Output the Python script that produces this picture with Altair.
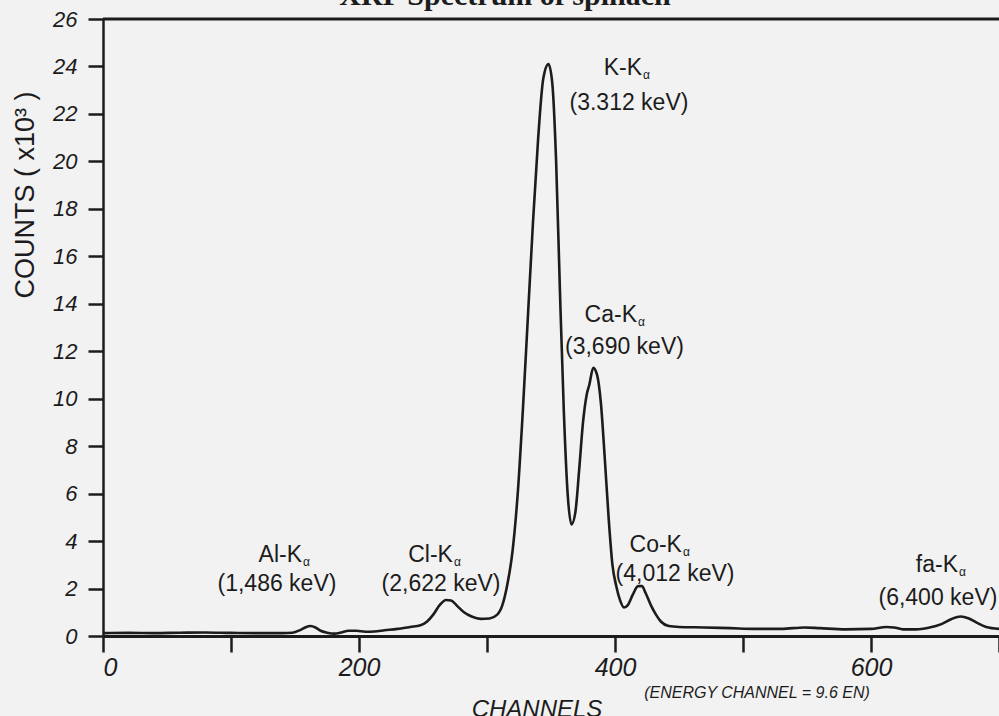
import altair as alt
import pandas as pd

# Spectrum: channel number and counts (thousands)
channels = [0, 20, 40, 60, 80, 100, 120, 140, 148, 154, 158, 162, 166, 170, 175, 181,
            186, 192, 198, 205, 212, 220, 230, 240, 248, 253, 258, 263, 268, 272, 277,
            282, 288, 295, 302, 308, 312, 316, 320, 324, 328, 332, 336, 340, 344, 348,
            351, 354, 357, 360, 363, 366, 369, 372, 375, 378, 380, 383, 386, 389, 392,
            395, 398, 401, 404, 407, 410, 414, 418, 421, 424, 428, 432, 436, 442, 450,
            470, 490, 510, 530, 548, 560, 580, 600, 612, 618, 625, 635, 645, 655, 663,
            670, 676, 683, 690, 700]
counts = [0.12, 0.13, 0.12, 0.14, 0.15, 0.13, 0.12, 0.12, 0.14, 0.25, 0.36, 0.42, 0.36,
          0.22, 0.14, 0.10, 0.15, 0.22, 0.22, 0.18, 0.19, 0.24, 0.30, 0.38, 0.45, 0.60,
          0.90, 1.30, 1.52, 1.50, 1.25, 1.00, 0.82, 0.72, 0.74, 0.90, 1.30, 2.20, 3.60,
          6.00, 9.50, 13.5, 17.5, 21.0, 23.5, 24.1, 23.3, 20.0, 14.5, 9.5, 6.0, 4.7,
          5.2, 7.0, 9.0, 10.2, 10.6, 11.3, 11.0, 9.8, 7.5, 5.0, 3.0, 2.1, 1.5, 1.2,
          1.3, 1.75, 2.1, 2.1, 1.8, 1.3, 0.9, 0.6, 0.42, 0.38, 0.36, 0.33, 0.30, 0.30,
          0.36, 0.33, 0.28, 0.30, 0.38, 0.36, 0.28, 0.28, 0.35, 0.50, 0.72, 0.82, 0.75,
          0.55, 0.38, 0.30]

# Peak labels
line_names = ["Al-K", "Cl-K", "K-K", "Ca-K", "Co-K", "fa-K"]
line_energies = ["(1,486 keV)", "(2,622 keV)", "(3.312 keV)", "(3,690 keV)",
                 "(4,012 keV)", "(6,400 keV)"]
name_x = [155.5, 273.4, 421.1, 417.2, 452.3, 668.0]
name_y = [3.41, 3.41, 23.94, 13.53, 3.83, 2.99]
energy_x = [135.9, 264.1, 410.9, 407.4, 446.9, 652.3]
energy_y = [2.19, 2.19, 22.46, 12.18, 2.61, 1.60]

x_ticks = [0, 100, 200, 300, 400, 500, 600, 700]
y_ticks = list(range(0, 27, 2))

spec = pd.DataFrame({"channel": channels, "counts": counts})
labels = pd.DataFrame({"name": line_names, "nx": name_x, "ny": name_y,
                       "energy": line_energies, "ex": energy_x, "ey": energy_y})

W, H = 896, 617
INK = "#1c1c1c"
SANS = "Liberation Sans"
NARROW = "Liberation Sans Narrow, Liberation Sans"

x_scale = alt.Scale(domain=[0, 700], nice=False, zero=False)
y_scale = alt.Scale(domain=[0, 26], nice=False)

x_axis = alt.Axis(values=x_ticks, labelExpr="datum.value % 200 == 0 ? datum.label : ''",
                  labelFont=NARROW, labelFontStyle="italic", labelFontSize=25,
                  labelColor=INK, labelPadding=3, tickSize=16, tickWidth=2.5,
                  tickColor=INK, domainColor=INK, domainWidth=3, grid=False,
                  labelOverlap=False, title=None)
y_axis = alt.Axis(values=y_ticks, labelFont=SANS, labelFontStyle="italic",
                  labelFontSize=22, labelColor=INK, labelPadding=11, tickSize=15,
                  tickWidth=2.5, tickColor=INK, domainColor=INK, domainWidth=2.5,
                  grid=False, labelOverlap=False, title=None)

spectrum = alt.Chart(spec).mark_line(color=INK, strokeWidth=2.6, interpolate="monotone").encode(
    x=alt.X("channel:Q", scale=x_scale, axis=x_axis),
    y=alt.Y("counts:Q", scale=y_scale, axis=y_axis),
)

# top frame line at the 26 level
frame = alt.Chart(pd.DataFrame({"a": [0], "b": [700], "top": [26]})).mark_rule(
    color=INK, strokeWidth=3).encode(
    x=alt.X("a:Q", scale=x_scale), x2="b:Q", y=alt.Y("top:Q", scale=y_scale))

base = alt.Chart(labels)
name_text = base.mark_text(font=SANS, fontSize=23, color=INK, align="right",
                           baseline="middle").encode(
    x=alt.X("nx:Q", scale=x_scale), y=alt.Y("ny:Q", scale=y_scale), text="name:N")
alpha_text = base.mark_text(font=SANS, fontSize=12, color=INK, align="left",
                            baseline="middle", dx=1, dy=7).encode(
    x=alt.X("nx:Q", scale=x_scale), y=alt.Y("ny:Q", scale=y_scale),
    text=alt.value("α"))
energy_text = base.mark_text(font=SANS, fontSize=23, color=INK, align="center",
                             baseline="middle").encode(
    x=alt.X("ex:Q", scale=x_scale), y=alt.Y("ey:Q", scale=y_scale), text="energy:N")

# chart title, partly above the top edge of the page
title_text = alt.Chart(pd.DataFrame({"t": ["XRF Spectrum of spinach"]})).mark_text(
    font="Liberation Serif", fontSize=30, fontWeight="bold", color=INK,
    align="center", baseline="alphabetic").encode(
    x=alt.value(402), y=alt.value(-14), text="t:N")

y_title = alt.Chart(pd.DataFrame({"t": ["COUNTS ( x10³ )"]})).mark_text(
    font=NARROW, fontSize=27, color=INK, angle=270, align="center",
    baseline="middle").encode(x=alt.value(-77), y=alt.value(176), text="t:N")

# x title, running past the bottom edge of the page
x_title = alt.Chart(pd.DataFrame({"t": ["CHANNELS"]})).mark_text(
    font=NARROW, fontSize=24, fontStyle="italic", color=INK, align="center",
    baseline="alphabetic").encode(x=alt.value(434), y=alt.value(H + 81), text="t:N")

x_note = alt.Chart(pd.DataFrame({"t": ["(ENERGY CHANNEL = 9.6 EN)"]})).mark_text(
    font=NARROW, fontSize=16, fontStyle="italic", color=INK, align="center",
    baseline="middle").encode(x=alt.value(654), y=alt.value(H + 57), text="t:N")

chart = alt.layer(
    frame, spectrum, name_text, alpha_text, energy_text,
    title_text, y_title, x_title, x_note,
).properties(
    width=W, height=H,
    padding={"left": 103, "top": 19, "right": 0, "bottom": 80},
    autosize=alt.AutoSizeParams(type="none"),
).configure(background="#f2f2f2").configure_view(stroke=None)

chart.save("out.html", embed_options={"renderer": "svg", "actions": False})
